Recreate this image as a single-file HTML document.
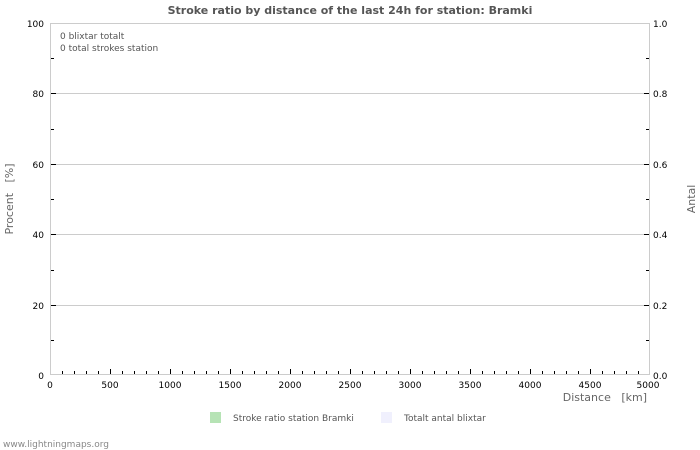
<!DOCTYPE html>
<html><head><meta charset="utf-8"><style>
html,body{margin:0;padding:0;background:#fff;}
svg{display:block;font-family:"DejaVu Sans","Liberation Sans",sans-serif;}
.pre{white-space:pre;}
</style></head><body>
<svg width="700" height="450" viewBox="0 0 700 450" xmlns="http://www.w3.org/2000/svg">
<rect width="700" height="450" fill="#fff"/>
<text x="350" y="14" text-anchor="middle" font-size="11" font-weight="bold" fill="#555">Stroke ratio by distance of the last 24h for station: Bramki</text>
<g stroke="#ccc" stroke-width="1">
<line x1="50" y1="23.5" x2="650" y2="23.5"/>
<line x1="50" y1="93.5" x2="650" y2="93.5"/>
<line x1="50" y1="164.5" x2="650" y2="164.5"/>
<line x1="50" y1="234.5" x2="650" y2="234.5"/>
<line x1="50" y1="305.5" x2="650" y2="305.5"/>
<line x1="50.5" y1="23" x2="50.5" y2="375"/>
<line x1="649.5" y1="23" x2="649.5" y2="375"/>
<line x1="50" y1="374.5" x2="650" y2="374.5"/>
</g>
<g stroke="#000" stroke-width="1">
<path d="M51 93.5h5M51 164.5h5M51 234.5h5M51 305.5h5M51 58.5h3M51 129.5h3M51 199.5h3M51 270.5h3M51 340.5h3"/>
<path d="M644 93.5h5M644 164.5h5M644 234.5h5M644 305.5h5M646 58.5h3M646 129.5h3M646 199.5h3M646 270.5h3M646 340.5h3"/>
<path d="M62.5 374v-3M74.5 374v-3M86.5 374v-3M98.5 374v-3M110.5 374v-5M122.5 374v-3M134.5 374v-3M146.5 374v-3M158.5 374v-3M170.5 374v-5M182.5 374v-3M194.5 374v-3M206.5 374v-3M218.5 374v-3M230.5 374v-5M242.5 374v-3M254.5 374v-3M266.5 374v-3M278.5 374v-3M290.5 374v-5M302.5 374v-3M314.5 374v-3M326.5 374v-3M338.5 374v-3M350.5 374v-5M362.5 374v-3M374.5 374v-3M386.5 374v-3M398.5 374v-3M410.5 374v-5M422.5 374v-3M434.5 374v-3M446.5 374v-3M458.5 374v-3M470.5 374v-5M482.5 374v-3M494.5 374v-3M506.5 374v-3M518.5 374v-3M530.5 374v-5M542.5 374v-3M554.5 374v-3M566.5 374v-3M578.5 374v-3M590.5 374v-5M602.5 374v-3M614.5 374v-3M626.5 374v-3M638.5 374v-3"/>
</g>
<g font-size="9" fill="#000" text-anchor="end">
<text x="44" y="27">100</text><text x="44" y="97">80</text><text x="44" y="168">60</text><text x="44" y="238">40</text><text x="44" y="309">20</text><text x="44" y="379">0</text>
</g>
<g font-size="9" fill="#000">
<text x="653" y="27">1.0</text><text x="653" y="97">0.8</text><text x="653" y="168">0.6</text><text x="653" y="238">0.4</text><text x="653" y="309">0.2</text><text x="653" y="379">0.0</text>
</g>
<g font-size="9" fill="#000" text-anchor="middle">
<text x="50" y="388">0</text><text x="110" y="388">500</text><text x="170" y="388">1000</text><text x="230" y="388">1500</text><text x="290" y="388">2000</text><text x="350" y="388">2500</text><text x="410" y="388">3000</text><text x="470" y="388">3500</text><text x="530" y="388">4000</text><text x="590" y="388">4500</text><text x="648" y="388">5000</text>
</g>
<text class="pre" x="647" y="401" text-anchor="end" font-size="11" fill="#666">Distance   [km]</text>
<text class="pre" transform="translate(13,199) rotate(-90)" text-anchor="middle" font-size="11" fill="#666">Procent   [%]</text>
<text transform="translate(695,199) rotate(-90)" text-anchor="middle" font-size="11" fill="#666">Antal</text>
<text x="60" y="39" font-size="9" fill="#555">0 blixtar totalt</text>
<text x="60" y="51" font-size="9" fill="#555">0 total strokes station</text>
<rect x="210" y="412" width="11" height="11" fill="#b6e3b5"/>
<text x="233" y="421" font-size="9" fill="#555">Stroke ratio station Bramki</text>
<rect x="381" y="412" width="11" height="11" fill="#f0f0fd"/>
<text x="404" y="421" font-size="9" fill="#555">Totalt antal blixtar</text>
<text x="3" y="447" font-size="9" fill="#888">www.lightningmaps.org</text>
</svg>
</body></html>
